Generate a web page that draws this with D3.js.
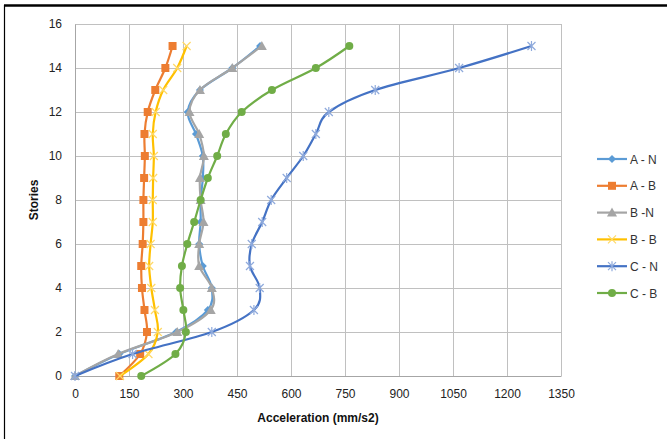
<!DOCTYPE html>
<html><head><meta charset="utf-8">
<script src="https://cdn.jsdelivr.net/npm/d3@7"></script>
<style>body{margin:0;background:#fff}svg{display:block}</style>
</head><body><svg id="c" width="667" height="439"></svg>
<script>
const stories = [0,1,2,3,4,5,6,7,8,9,10,11,12,13,14,15];
const seriesNames = ["A - N","A - B","B -N","B - B","C - N","C - B"];
const aN = [0,123,281,369,380,355,345,349,349,355,355,336,313,347,437,514];
const aB = [123,181,200,193,186,184,188,190,190,192,194,193,202,223,251,271];
const bN = [0,120,284,377,380,345,345,357,349,347,358,345,318,347,437,519];
const bB = [125,204,230,222,212,206,210,216,216,217,219,216,224,245,284,310];
const cN = [0,160,380,497,513,486,491,520,545,588,634,669,705,834,1067,1268];
const cB = [184,279,308,301,292,297,312,331,349,369,395,419,463,547,669,762];
const xTicks = [0,150,300,450,600,750,900,1050,1200,1350];
const yTicks = [0,2,4,6,8,10,12,14,16];

const colors = ["#5B9BD5","#ED7D31","#A5A5A5","#FFC000","#4472C4","#70AD47"];
const markers = ["diamond","square","triangle","x","star","circle"];
const data = [aN,aB,bN,bB,cN,cB];

const svg = d3.select("#c");
const L=75,R=561,T=24,B=376;
const x = d3.scaleLinear().domain([0,1350]).range([L,R]);
const y = d3.scaleLinear().domain([0,16]).range([B,T]);
const font = "'Liberation Sans', Arial, sans-serif";

// frame
svg.append("line").attr("x1",4).attr("x2",667).attr("y1",5.5).attr("y2",5.5).attr("stroke","#000").attr("stroke-width",2.5);
svg.append("line").attr("x1",4.5).attr("x2",4.5).attr("y1",5).attr("y2",439).attr("stroke","#000").attr("stroke-width",1.2);

// grid
svg.append("g").selectAll("line").data(xTicks).join("line")
  .attr("x1",d=>x(d)).attr("x2",d=>x(d)).attr("y1",T).attr("y2",B)
  .attr("stroke","#C0C0C0").attr("stroke-width",1).attr("shape-rendering","crispEdges");
svg.append("g").selectAll("line").data(yTicks).join("line")
  .attr("x1",L).attr("x2",R).attr("y1",d=>y(d)).attr("y2",d=>y(d))
  .attr("stroke","#C0C0C0").attr("stroke-width",1).attr("shape-rendering","crispEdges");

// axes
const xa = svg.append("g").attr("transform",`translate(0,${B})`).call(d3.axisBottom(x).tickValues(xTicks).tickFormat(d3.format("d")).tickSize(0).tickPadding(13));
const ya = svg.append("g").attr("transform",`translate(${L},0)`).call(d3.axisLeft(y).tickValues(yTicks).tickFormat(d3.format("d")).tickSize(0).tickPadding(13));
[xa,ya].forEach(a=>{a.select(".domain").attr("stroke","#A6A6A6");a.selectAll("text").attr("font-family",font).attr("font-size",12).attr("fill","#222");});

svg.append("text").attr("x",318).attr("y",422).attr("text-anchor","middle").attr("font-family",font).attr("font-size",12).attr("font-weight","bold").attr("fill","#111").text("Acceleration (mm/s2)");
svg.append("text").attr("transform","translate(38,200) rotate(-90)").attr("text-anchor","middle").attr("font-family",font).attr("font-size",12).attr("font-weight","bold").attr("fill","#111").text("Stories");

function drawMarker(g,type,c){
  if(type==="diamond") g.append("path").attr("d","M0,-4L4,0L0,4L-4,0Z").attr("fill",c);
  else if(type==="square") g.append("rect").attr("x",-4).attr("y",-4).attr("width",8).attr("height",8).attr("fill",c);
  else if(type==="triangle") g.append("path").attr("d","M0,-5L5,4L-5,4Z").attr("fill",c);
  else if(type==="circle") g.append("circle").attr("r",4).attr("fill",c);
  else if(type==="x") g.append("path").attr("d","M-4,-4L4,4M-4,4L4,-4").attr("stroke","#FFD966").attr("stroke-width",1.2).attr("fill","none");
  else if(type==="star") g.append("path").attr("d","M-4,-4L4,4M-4,4L4,-4M0,-5L0,5").attr("stroke","#8FAADC").attr("stroke-width",1.2).attr("fill","none");
}

const line = d3.line().x(d=>x(d[0])).y(d=>y(d[1])).curve(d3.curveCatmullRom.alpha(0));
data.forEach((vals,i)=>{
  const pts = vals.map((v,j)=>[v,stories[j]]);
  svg.append("path").datum(pts).attr("d",line).attr("fill","none").attr("stroke",colors[i]).attr("stroke-width",2.2).attr("stroke-linejoin","round");
  pts.forEach(p=>{
    const g = svg.append("g").attr("transform",`translate(${x(p[0])},${y(p[1])})`);
    drawMarker(g,markers[i],colors[i]);
  });
});

// legend
seriesNames.forEach((n,i)=>{
  const yy = 159 + i*26.8;
  svg.append("line").attr("x1",597).attr("x2",627).attr("y1",yy).attr("y2",yy).attr("stroke",colors[i]).attr("stroke-width",2.2);
  const g = svg.append("g").attr("transform",`translate(612,${yy})`);
  drawMarker(g,markers[i],colors[i]);
  svg.append("text").attr("x",630).attr("y",yy+4.5).attr("font-family",font).attr("font-size",12).attr("fill","#333").text(n);
});
</script></body></html>
